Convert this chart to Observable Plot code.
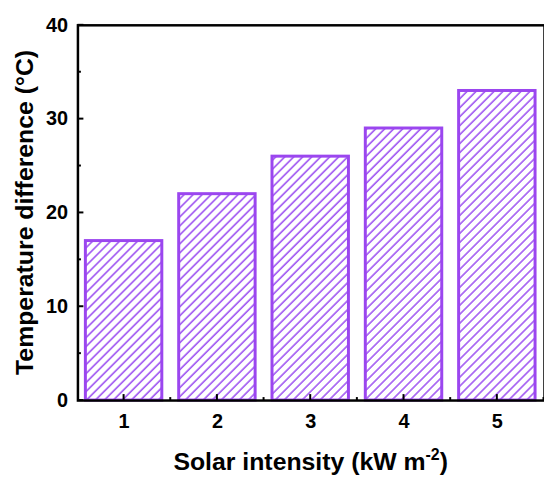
<!DOCTYPE html>
<html>
<head>
<meta charset="utf-8">
<script src="https://cdn.jsdelivr.net/npm/d3@7"></script>
<script src="https://cdn.jsdelivr.net/npm/@observablehq/plot@0.6"></script>
<style>
  html, body { margin: 0; padding: 0; overflow: hidden; background: #fff; }
  #chart { width: 544px; height: 478px; overflow: hidden; }
</style>
</head>
<body>
<div id="chart"></div>
<script>
// Data
const intensities = ["1", "2", "3", "4", "5"];
const tempDiff = [17, 22, 26, 29, 33];
const yTicks = [0, 10, 20, 30, 40];
const yMinorTicks = [5, 15, 25, 35];
const xLabel = "Solar intensity (kW m";
const xLabelSup = "-2";
const xLabelEnd = ")";
const yLabel = "Temperature difference (°C)";

const data = intensities.map((s, i) => ({s, v: tempDiff[i]}));

const purple = "#9b46ef";
const hatchColor = "#a45ff2";

function tickMarks(index, scales, values, dims) {
  const {x, y} = scales;
  const bw = x.bandwidth ? x.bandwidth() : 0;
  const left = dims.marginLeft;
  const bottom = dims.height - dims.marginBottom;
  const g = d3.create("svg:g").attr("stroke", "black").attr("stroke-width", 2).attr("fill", "none");
  for (const t of yTicks) g.append("path").attr("d", `M${left},${y(t)}h6`);
  for (const t of yMinorTicks) g.append("path").attr("d", `M${left},${y(t)}h3.5`);
  const centers = intensities.map(c => x(c) + bw / 2);
  for (const cx of centers) g.append("path").attr("d", `M${cx},${bottom}v-6`);
  for (let i = 0; i < centers.length; i++) {
    const next = i + 1 < centers.length ? centers[i + 1] : centers[i] + (centers[1] - centers[0]);
    const mx = (centers[i] + next) / 2;
    g.append("path").attr("d", `M${mx},${bottom}v-3`);
  }
  return g.node();
}

const chart = Plot.plot({
  width: 548,
  height: 478,
  marginLeft: 78,
  marginRight: 0,
  marginTop: 25,
  marginBottom: 75,
  style: {fontFamily: "'Liberation Sans', Arial, sans-serif", fontWeight: "bold", fontSize: "20px", color: "black", background: "white"},
  x: {type: "band", domain: intensities, paddingInner: 0.18, paddingOuter: 0.09, align: 0.5, label: null},
  y: {domain: [0, 40], label: null},
  marks: [
    Plot.barY(data, {x: "s", y: "v", fill: "url(#hatch)", stroke: purple, strokeWidth: 3}),
    Plot.axisY({ticks: yTicks, tickSize: 0, tickPadding: 10, label: null, fontSize: 20, fontWeight: "bold"}),
    Plot.axisX({tickSize: 0, tickPadding: 13, label: null, fontSize: 20, fontWeight: "bold"}),
    Plot.frame({stroke: "black", strokeWidth: 2.5}),
    tickMarks
  ]
});

const svg = d3.select(chart);
const defs = svg.insert("defs", ":first-child");
const pat = defs.append("pattern")
  .attr("id", "hatch")
  .attr("patternUnits", "userSpaceOnUse")
  .attr("width", 6.4)
  .attr("height", 6.4)
  .attr("patternTransform", "rotate(45)");
pat.append("rect").attr("width", 6.4).attr("height", 6.4).attr("fill", "white");
pat.append("line").attr("x1", 1).attr("y1", 0).attr("x2", 1).attr("y2", 6.4)
  .attr("stroke", hatchColor).attr("stroke-width", 1.7);

// Axis titles
svg.append("text")
  .attr("transform", "translate(33,214) rotate(-90)")
  .attr("text-anchor", "middle")
  .attr("font-size", 25)
  .attr("font-weight", "bold")
  .attr("fill", "black")
  .text(yLabel);

const xt = svg.append("text")
  .attr("x", 313)
  .attr("y", 473)
  .attr("text-anchor", "middle")
  .attr("font-size", 25)
  .attr("font-weight", "bold")
  .attr("fill", "black");
xt.append("tspan").text(xLabel);
xt.append("tspan").attr("dy", -10).attr("font-size", 16).text(xLabelSup);
xt.append("tspan").attr("dy", 10).text(xLabelEnd);

document.getElementById("chart").appendChild(chart);
</script>
</body>
</html>
